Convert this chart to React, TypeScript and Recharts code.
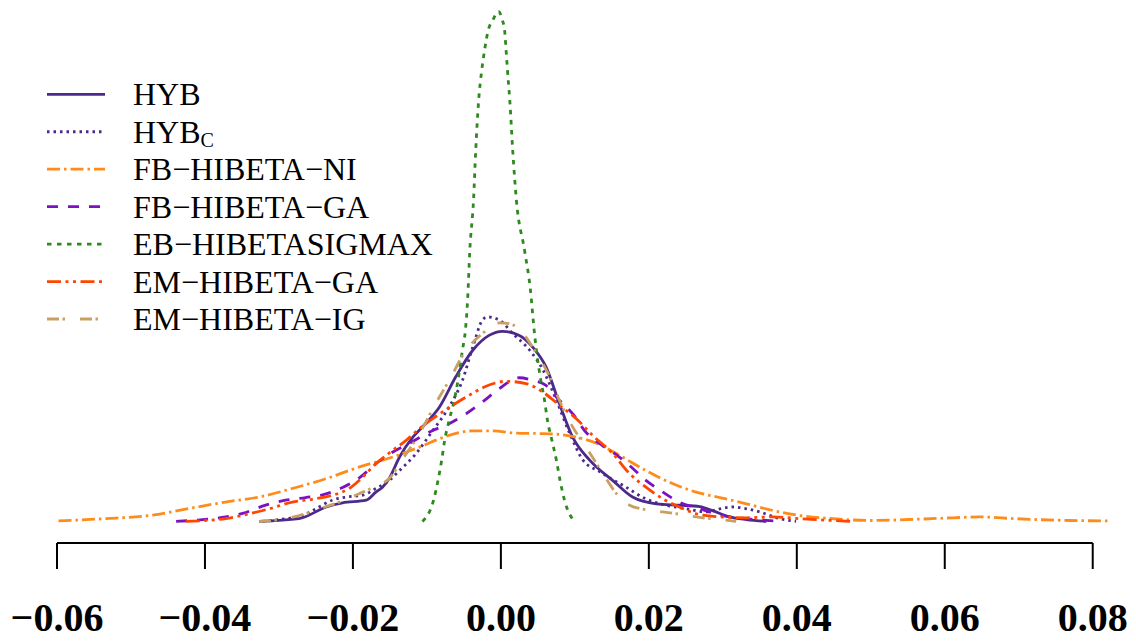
import { LineChart, Line, XAxis, YAxis, ReferenceLine, Legend } from "recharts";

// density estimates: [x, density]
const HYB: [number, number][] = [
  [-0.0327, 0], [-0.0273, 0.6], [-0.0236, 3.2], [-0.0214, 4.1], [-0.0182, 4.7],
  [-0.0169, 6.5], [-0.016, 7.6], [-0.0151, 9.5], [-0.0137, 14.3], [-0.0119, 18.7],
  [-0.0106, 21], [-0.0083, 25.4], [-0.0061, 32.1], [-0.0038, 38], [-0.0016, 41.3],
  [0.0002, 42.2], [0.0025, 41.3], [0.0043, 38.7], [0.0061, 34.3], [0.0079, 26.2],
  [0.0097, 18.7], [0.012, 13.6], [0.0151, 9.1], [0.0178, 5.4], [0.021, 3.9],
  [0.0241, 3.6], [0.0269, 3.3], [0.0286, 2.4], [0.0309, 1.0], [0.0332, 0.4], [0.0359, 0],
];

const HYB_C: [number, number][] = [
  [-0.0322, 0], [-0.0291, 0.6], [-0.0268, 1.3], [-0.025, 2.8], [-0.0228, 4.7],
  [-0.0209, 5.4], [-0.0187, 5.8], [-0.0169, 7.3], [-0.0151, 9.1], [-0.0137, 11.3],
  [-0.0115, 15], [-0.0092, 20.2], [-0.007, 25.4], [-0.0052, 31.3], [-0.0038, 38.7],
  [-0.0025, 44.7], [-0.0018, 45.4], [-0.0002, 44.7], [0.0016, 41.7], [0.0039, 38],
  [0.0057, 33.6], [0.0075, 26.9], [0.0093, 19.5], [0.0111, 13.6], [0.0133, 11.1],
  [0.0169, 7.6], [0.0196, 5.0], [0.0223, 3.6], [0.0251, 2.8], [0.0278, 2.1],
  [0.0296, 2.8], [0.0314, 3.2], [0.0332, 2.8], [0.035, 2.1], [0.0377, 0.6], [0.0399, 0],
];

const FB_NI: [number, number][] = [
  [-0.0598, 0.1], [-0.0536, 0.6], [-0.0475, 1.3], [-0.0417, 3.0], [-0.0372, 4.3],
  [-0.0327, 5.4], [-0.0282, 7.3], [-0.0236, 9.5], [-0.0191, 12.1], [-0.0146, 14.3],
  [-0.011, 16.5], [-0.007, 19.1], [-0.0038, 20.1], [-0.0011, 20.1], [0.0021, 19.6],
  [0.0052, 19.5], [0.0079, 19.3], [0.0102, 18.7], [0.0133, 17.1], [0.016, 14.7],
  [0.0196, 11.3], [0.0232, 8.4], [0.0264, 6.5], [0.0296, 5.3], [0.0332, 3.9],
  [0.0368, 2.4], [0.0404, 1.3], [0.0449, 0.6], [0.0498, 0.2], [0.0566, 0.5],
  [0.0611, 0.8], [0.0647, 1.0], [0.0683, 0.7], [0.0724, 0.4], [0.0769, 0.2], [0.0821, 0.1],
];

const FB_GA: [number, number][] = [
  [-0.0439, 0], [-0.0403, 0.4], [-0.0372, 1.0], [-0.0349, 1.8], [-0.0318, 3.6],
  [-0.0291, 4.7], [-0.0264, 5.3], [-0.0241, 5.9], [-0.0214, 7.5], [-0.0191, 9.7],
  [-0.0169, 12.8], [-0.0146, 15.4], [-0.0124, 17.3], [-0.0092, 20.2], [-0.007, 21.7],
  [-0.0047, 23.9], [-0.0025, 26.5], [-0.0002, 29.5], [0.0025, 31.9], [0.0043, 31.3],
  [0.0061, 30.2], [0.0075, 27.6], [0.0097, 23.9], [0.0115, 19.8], [0.0133, 17.3],
  [0.0151, 15.4], [0.0174, 12.4], [0.0196, 9.1], [0.0219, 6.5], [0.0241, 4.3],
  [0.0269, 2.8], [0.03, 1.3], [0.0332, 0.6], [0.0379, 0],
];

const EB_SIGMAX: [number, number][] = [
  [-0.0106, 0], [-0.0091, 4.7], [-0.0085, 9.1], [-0.008, 13.6], [-0.0076, 18],
  [-0.007, 22.4], [-0.0063, 26.9], [-0.0058, 31.3], [-0.0052, 38], [-0.0048, 42.4],
  [-0.0045, 49.1], [-0.0042, 60.2], [-0.0037, 71.3], [-0.0034, 82.4], [-0.003, 93.6],
  [-0.0026, 100], [-0.0022, 104.7], [-0.0017, 109.1], [-0.0011, 111.3], [-0.0003, 113.2],
  [0.0002, 111.3], [0.0005, 109.1], [0.0007, 104.7], [0.0009, 100], [0.0012, 93.6],
  [0.0016, 82.4], [0.0021, 71.3], [0.0032, 60.2], [0.004, 51.3], [0.0045, 42.4],
  [0.0048, 38], [0.0054, 31.3], [0.0059, 26.9], [0.0063, 22.4], [0.0069, 18],
  [0.0075, 13.6], [0.008, 9.1], [0.0086, 4.7], [0.0099, 0],
];

const EM_GA: [number, number][] = [
  [-0.0426, 0], [-0.0372, 0.6], [-0.034, 1.7], [-0.0313, 2.8], [-0.0282, 4.3],
  [-0.0255, 4.9], [-0.0228, 5.8], [-0.0205, 7.3], [-0.0187, 9.8], [-0.0169, 12.8],
  [-0.0146, 15.8], [-0.0128, 18], [-0.011, 20.6], [-0.0079, 24.3], [-0.0047, 27.6],
  [-0.002, 30], [0.0007, 31.1], [0.0034, 30.6], [0.0057, 28.7], [0.0079, 25.8],
  [0.0102, 22.8], [0.0124, 19.1], [0.0151, 15.1], [0.0174, 10.6], [0.0196, 7.6],
  [0.0219, 5.0], [0.0241, 3.2], [0.0264, 1.7], [0.0296, 1.0], [0.0332, 0.8],
  [0.0368, 1.0], [0.0404, 0.6], [0.0475, 0],
];

const EM_IG: [number, number][] = [
  [-0.0327, 0], [-0.0291, 0.6], [-0.0264, 1.7], [-0.0236, 3.3], [-0.0218, 4.3],
  [-0.0191, 6.2], [-0.0169, 7.8], [-0.0151, 9.5], [-0.0133, 13.8], [-0.011, 19.5],
  [-0.0088, 26.2], [-0.007, 31.3], [-0.0047, 38], [-0.0025, 41.7], [-0.0002, 44.1],
  [0.0012, 43.9], [0.003, 41.7], [0.0048, 37.3], [0.0066, 32.1], [0.0079, 26.9],
  [0.0097, 21], [0.0115, 16.5], [0.0138, 10.6], [0.0156, 6.2], [0.0174, 3.6],
  [0.0196, 2.6], [0.0219, 2.1], [0.0241, 1.6], [0.0273, 0.8], [0.0296, 0.4], [0.0318, 0],
];

const X_TICKS = [-0.06, -0.04, -0.02, 0, 0.02, 0.04, 0.06, 0.08];

const SERIES = [
  { name: "HYB", sub: "", data: HYB, color: "#4b2a8c", dash: undefined },
  { name: "HYB", sub: "C", data: HYB_C, color: "#4b2a8c", dash: "2.5 4" },
  { name: "FB\u2212HIBETA\u2212NI", sub: "", data: FB_NI, color: "#ff8c1a", dash: "13 4 2.5 4" },
  { name: "FB\u2212HIBETA\u2212GA", sub: "", data: FB_GA, color: "#7a12c4", dash: "11 10" },
  { name: "EB\u2212HIBETASIGMAX", sub: "", data: EB_SIGMAX, color: "#2e8a1e", dash: "4.5 5.5" },
  { name: "EM\u2212HIBETA\u2212GA", sub: "", data: EM_GA, color: "#ff4500", dash: "14 4.5 3 4.5 3 4.5" },
  { name: "EM\u2212HIBETA\u2212IG", sub: "", data: EM_IG, color: "#c9a062", dash: "12 3.5 2.5 15" },
];

const serif = "'Liberation Serif', 'Times New Roman', serif";

function fmt(v: number) {
  if (Math.abs(v) < 1e-9) return "0.00";
  return (v < 0 ? "\u2212" : "") + Math.abs(v).toFixed(2);
}

function Tick({ x, y, payload }: any) {
  return (
    <text x={x} y={y} dy={62} textAnchor="middle" fontFamily={serif} fontWeight="bold" fontSize={40} fill="#000">
      {fmt(payload.value)}
    </text>
  );
}

function LegendBox() {
  return (
    <svg width={460} height={340} style={{ display: "block" }}>
      {SERIES.map((s, i) => {
        const y = 94.3 + i * 37.45;
        return (
          <g key={i}>
            <line x1={47} x2={105} y1={y} y2={y} stroke={s.color} strokeWidth={2.8} strokeDasharray={s.dash} />
            <text x={133} y={y + 11} fontFamily={serif} fontSize={32} fill="#000">
              {s.name}
              {s.sub && (
                <tspan fontSize={20} dy={4}>
                  {s.sub}
                </tspan>
              )}
            </text>
          </g>
        );
      })}
    </svg>
  );
}

export default function App() {
  return (
    <div style={{ position: "absolute", left: 0, top: 0, background: "#fff" }}>
      <LineChart width={1136} height={643} margin={{ top: 8, right: 27, bottom: 0, left: 57 }}>
        <XAxis
          type="number"
          dataKey="x"
          domain={[-0.06, 0.0822]}
          allowDataOverflow
          ticks={X_TICKS}
          interval={0}
          axisLine={false}
          tickLine={{ stroke: "#000", strokeWidth: 2 }}
          tickSize={26}
          tickMargin={0}
          height={100}
          tick={<Tick />}
        />
        <YAxis type="number" hide domain={[-4.8, 114]} allowDataOverflow />
        <ReferenceLine
          segment={[{ x: -0.06, y: -4.8 }, { x: 0.08, y: -4.8 }]}
          stroke="#000"
          strokeWidth={2}
          ifOverflow="visible"
        />
        <Legend
          layout="horizontal"
          verticalAlign="middle"
          align="center"
          wrapperStyle={{ left: 0, top: 0 }}
          content={() => <LegendBox />}
        />
        {SERIES.map((s, i) => (
          <Line
            key={i}
            data={s.data.map(([x, y]) => ({ x, y }))}
            dataKey="y"
            type="monotone"
            stroke={s.color}
            strokeWidth={2.8}
            strokeDasharray={s.dash}
            dot={false}
            activeDot={false}
            legendType="none"
            isAnimationActive={false}
          />
        ))}
      </LineChart>
    </div>
  );
}
